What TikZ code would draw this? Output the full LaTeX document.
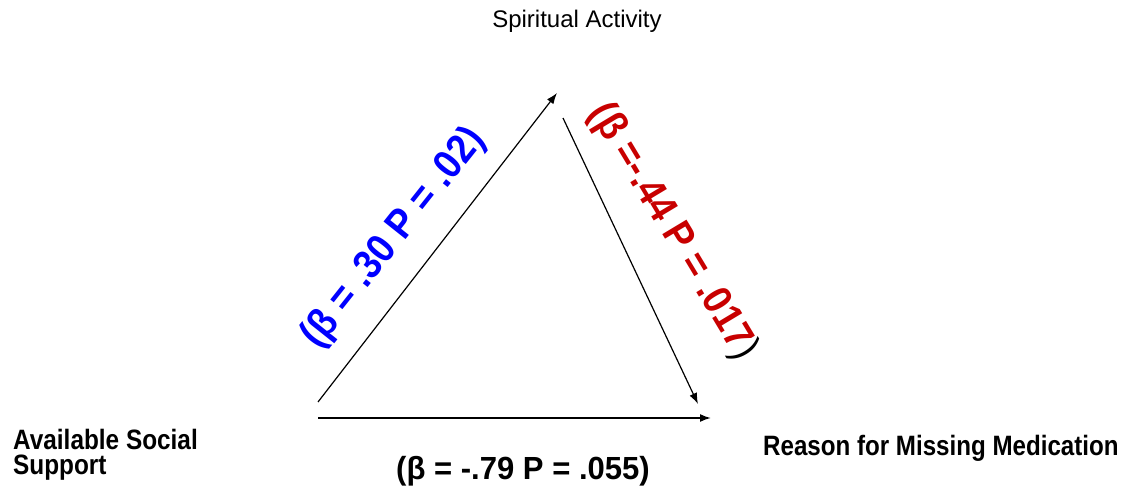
\documentclass[tikz,border=0pt]{standalone}
\usepackage{fontspec}
\setmainfont{Liberation Sans}
\usetikzlibrary{arrows.meta}
\definecolor{lblblue}{RGB}{0,0,255}
\definecolor{lblred}{RGB}{200,0,0}
\newcommand{\narrowtxt}[2][0.85]{\scalebox{#1}[1]{#2}}
\begin{document}
\begin{tikzpicture}[x=1pt,y=-1pt,
  conn/.style={line width=1.2pt,-{Latex[length=11pt,width=8pt]}},
  varlbl/.style={font=\bfseries\fontsize{28}{25}\selectfont, inner sep=0pt},
  coeflbl/.style={font=\bfseries\fontsize{41}{44}\selectfont, inner sep=0pt}]
\useasboundingbox (0,0) rectangle (1125,489);

% variables
\node[inner sep=0pt, anchor=base, font=\fontsize{24}{28}\selectfont] (spir) at (577,28) {Spiritual Activity};
\node[varlbl, anchor=north west, align=left] (soc) at (13,429) {\narrowtxt[0.87]{Available Social}\\\narrowtxt[0.87]{Support}};
\node[varlbl, anchor=base west] (miss) at (763,455) {\narrowtxt[0.862]{Reason for Missing Medication}};

% arrow end points
\coordinate (a1s) at (318,402); \coordinate (a1e) at (557,93);
\coordinate (a2s) at (563,118); \coordinate (a2e) at (698,404);
\coordinate (a3s) at (318,418); \coordinate (a3e) at (711,418);

\draw[conn] (a1s) -- (a1e);
\draw[conn] (a2s) -- (a2e);
\draw[conn, line width=1.7pt] (a3s) -- (a3e);

% coefficients
\node[coeflbl, text=lblblue, rotate=51.5] (c1) at (394,238) {\narrowtxt[0.9]{(β = .30 P = .02)}};
\node[coeflbl, text=lblred, rotate=-59] (c2) at (673,232) {\narrowtxt[0.9]{(β =-.44 P = .017}\textcolor{black}{\mdseries\narrowtxt[0.9]{)}}};
\node[inner sep=0pt, anchor=base, font=\bfseries\fontsize{32}{36}\selectfont] (c3) at (523,479) {\narrowtxt[0.97]{(β = -.79 P = .055)}};
\end{tikzpicture}
\end{document}
